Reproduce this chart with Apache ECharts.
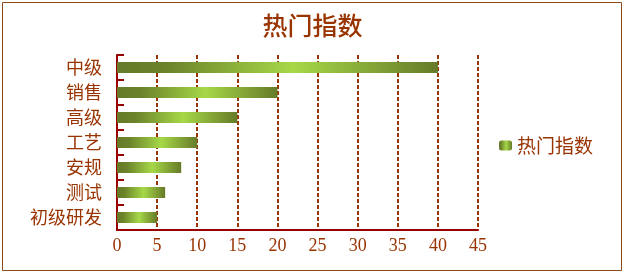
<!DOCTYPE html>
<html><head><meta charset="utf-8">
<script src="https://cdn.jsdelivr.net/npm/echarts@6/dist/echarts.min.js"></script>
<style>html,body{margin:0;padding:0;background:#fff}#c{width:625px;height:274px}</style>
</head><body><div id="c"></div>
<script>
const titleText = '热门指数';
const categories = ['中级', '销售', '高级', '工艺', '安规', '测试', '初级研发'];
const seriesName = '热门指数';
const values = [40, 20, 15, 10, 8, 6, 5];
const xTicks = {min: 0, max: 45, interval: 5};

const brown = '#993300';
const font = '"Noto Sans CJK SC", sans-serif';
const serif = '"Liberation Serif", "DejaVu Serif", serif';
const grad = new echarts.graphic.LinearGradient(0, 0, 1, 0, [
  {offset: 0, color: '#667a28'},
  {offset: 0.15, color: '#6b822a'},
  {offset: 0.55, color: '#a6d848'},
  {offset: 1, color: '#667a28'}
]);
const chart = echarts.init(document.getElementById('c'));
chart.setOption({
  animation: false,
  title: {text: titleText, left: 'center', top: 8,
    textStyle: {color: brown, fontSize: 25, fontWeight: 500, fontFamily: font}},
  graphic: [{type: 'rect', shape: {x: 2.5, y: 2.5, width: 619, height: 268},
    style: {fill: 'none', stroke: '#8a4a1a', lineWidth: 1}}],
  legend: {data: [seriesName], left: 494, top: 131, itemWidth: 13, itemHeight: 10, itemGap: 8,
    textStyle: {color: brown, fontSize: 19, fontFamily: font}},
  grid: {left: 117, right: 147, top: 55, bottom: 44, containLabel: false},
  xAxis: {type: 'value', min: xTicks.min, max: xTicks.max, interval: xTicks.interval,
    axisLine: {show: true, lineStyle: {color: '#990000', width: 2}},
    axisTick: {show: false},
    axisLabel: {color: brown, fontSize: 18, fontFamily: serif, margin: 7},
    splitLine: {show: true, lineStyle: {color: brown, width: 2, type: [4, 2]}}},
  yAxis: {type: 'category', data: categories, inverse: true,
    axisLine: {show: true, lineStyle: {color: '#990000', width: 2}},
    axisTick: {show: true, inside: true, length: 7, lineStyle: {color: '#990000', width: 2}},
    axisLabel: {color: brown, fontSize: 18, fontFamily: font, margin: 15},
    splitLine: {show: false}},
  series: [{name: seriesName, type: 'bar', data: values, barWidth: 11,
    itemStyle: {color: grad}}]
});
</script></body></html>
